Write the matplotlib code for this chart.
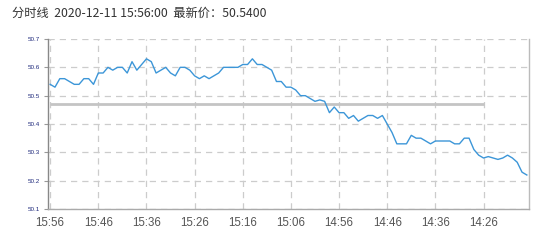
import matplotlib.pyplot as plt
import numpy as np

# 分时线数据：从 15:56 开始，每分钟往前一个点
price = [50.54, 50.53, 50.56, 50.56, 50.55, 50.54, 50.54, 50.56, 50.56, 50.54,
         50.58, 50.58, 50.60, 50.59, 50.60, 50.60, 50.58, 50.62, 50.59, 50.61,
         50.63, 50.62, 50.58, 50.59, 50.60, 50.58, 50.57, 50.60, 50.60, 50.59,
         50.57, 50.56, 50.57, 50.56, 50.57, 50.58, 50.60, 50.60, 50.60, 50.60,
         50.61, 50.61, 50.63, 50.61, 50.61, 50.60, 50.59, 50.55, 50.55, 50.53,
         50.53, 50.52, 50.50, 50.50, 50.49, 50.48, 50.485, 50.48, 50.44, 50.46,
         50.44, 50.44, 50.42, 50.43, 50.41, 50.42, 50.43, 50.43, 50.42, 50.43,
         50.40, 50.37, 50.33, 50.33, 50.33, 50.36, 50.35, 50.35, 50.34, 50.33,
         50.34, 50.34, 50.34, 50.34, 50.33, 50.33, 50.35, 50.35, 50.31, 50.29,
         50.28, 50.285, 50.28, 50.275, 50.28, 50.29, 50.28, 50.265, 50.23, 50.22]
time_labels = ['15:56', '15:46', '15:36', '15:26', '15:16', '15:06',
               '14:56', '14:46', '14:36', '14:26']
y_ticks = [50.1, 50.2, 50.3, 50.4, 50.5, 50.6, 50.7]
prev_close = 50.47
title = '分时线  2020-12-11 15:56:00  最新价：50.5400'

fig = plt.figure(figsize=(5.45, 2.41), dpi=100)
ax = fig.add_axes([48 / 545, 1 - 209 / 241, 481 / 545, 170 / 241])

x = np.arange(len(price))
tick_pos = np.arange(len(time_labels)) * 10

# 昨收参考线
ax.hlines(prev_close, 0, tick_pos[-1], color='#c4c4c4', lw=2, zorder=2)
ax.plot(x, price, color='#3c96d8', lw=1.0, zorder=3)

ax.set_xlim(-0.45, 99.45)
ax.set_ylim(50.1, 50.7)
ax.set_xticks(tick_pos)
ax.set_xticklabels(time_labels, family='Liberation Sans', fontsize=8.3, color='#555555')
ax.set_yticks(y_ticks)
ax.set_yticklabels([f'{v:.1f}' for v in y_ticks], family='Liberation Sans',
                   fontsize=4.5, color='#1f2a7c')
ax.tick_params(axis='x', length=0, pad=6)
ax.tick_params(axis='y', length=3, width=0.8, color='#999999', pad=3)

ax.grid(True, color='#cccccc', linestyle=(0, (5, 4)), lw=0.9)
ax.set_axisbelow(True)
ax.spines['top'].set_visible(False)
ax.spines['left'].set_color('#888888')
ax.spines['bottom'].set_color('#aaaaaa')
ax.spines['right'].set_color('#bbbbbb')
for s in ax.spines.values():
    s.set_linewidth(1)

fig.text(12 / 545, 1 - 13.5 / 241, title, family=['Noto Sans CJK SC', 'DejaVu Sans'],
         fontsize=8.8, color='#333333', va='center', ha='left')

fig.savefig('out.png', dpi=100)
